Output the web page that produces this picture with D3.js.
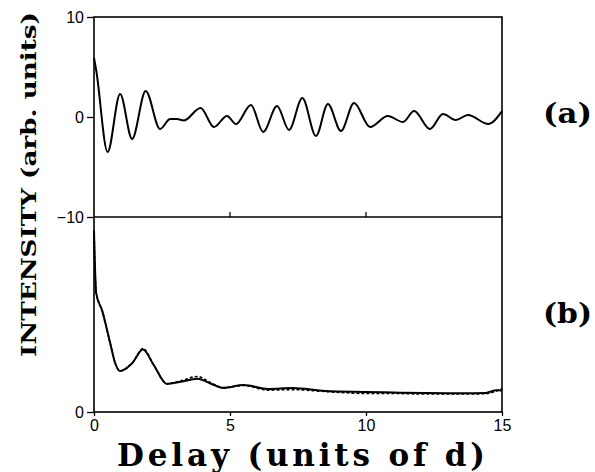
<!DOCTYPE html>
<html>
<head>
<meta charset="utf-8">
<script src="https://cdn.jsdelivr.net/npm/d3@7"></script>
<style>
	body { margin: 0; background: #fff; }
	svg { display: block; }
</style>
</head>
<body>
<div id="chart"></div>
<script>
// panel (a): oscillating signal at its turning points
var delayA = [0, 0.08, 0.5, 0.96, 1.4, 1.9, 2.43, 2.8, 3.05, 3.3, 3.92, 4.41, 4.89, 5.22, 5.77, 6.22, 6.73, 7.17, 7.66, 8.16, 8.6, 9.08, 9.56, 10.15, 10.8, 11.36, 11.77, 12.35, 12.83, 13.3, 13.75, 14.5, 15];
var intensityA = [5.9, 4.7, -3.5, 2.3, -2.2, 2.6, -1.2, -0.2, -0.2, -0.35, 0.9, -1.0, 0.1, -0.7, 1.2, -1.5, 1.1, -1.3, 1.9, -1.9, 1.3, -1.4, 1.4, -1.0, 0.1, -0.5, 0.6, -1.2, 0.3, -0.3, 0.2, -0.7, 0.6];

// panel (b): solid and dashed curves
var delayB = [0, 0.08, 0.3, 0.6, 0.78, 0.96, 1.4, 1.8, 2.2, 2.68, 3.2, 3.8, 4.3, 4.75, 5.5, 6.4, 7.3, 8.5, 10.0, 11.0, 12.2, 13.5, 14.4, 14.8, 15];
var solidB = [9.3, 6.1, 5.2, 3.5, 2.5, 2.1, 2.5, 3.2, 2.4, 1.44, 1.55, 1.7, 1.45, 1.23, 1.38, 1.18, 1.23, 1.08, 1.03, 1.0, 0.97, 0.96, 0.98, 1.12, 1.1];
var dashedB = [9.3, 6.1, 5.2, 3.5, 2.5, 2.1, 2.5, 3.25, 2.4, 1.45, 1.6, 1.82, 1.5, 1.25, 1.36, 1.12, 1.15, 1.05, 0.95, 0.95, 0.92, 0.92, 0.94, 1.08, 1.2];

var xTicks = [0, 5, 10, 15];
var yTicksA = [10, 0, -10];
var yTicksB = [0];

var W = 595, H = 472;
var plotLeft = 94, plotRight = 502, plotTop = 17, plotMid = 217, plotBottom = 412;

var svg = d3.select("#chart").append("svg")
	.attr("width", W)
	.attr("height", H);

var x = d3.scaleLinear().domain([0, 15]).range([plotLeft, plotRight]);
var yA = d3.scaleLinear().domain([-10, 10]).range([plotMid, plotTop]);
var yB = d3.scaleLinear().domain([0, 10]).range([plotBottom, plotMid]);

var tickFont = "'Liberation Sans', Arial, sans-serif";
var titleFont = "'DejaVu Serif', 'Liberation Serif', serif";

// frame
svg.append("rect")
	.attr("x", plotLeft).attr("y", plotTop)
	.attr("width", plotRight - plotLeft).attr("height", plotBottom - plotTop)
	.attr("fill", "none").attr("stroke", "#000").attr("stroke-width", 1.6);
svg.append("line")
	.attr("x1", plotLeft).attr("x2", plotRight)
	.attr("y1", plotMid).attr("y2", plotMid)
	.attr("stroke", "#000").attr("stroke-width", 1.6);

// y axes
var axA = svg.append("g")
	.attr("transform", "translate(" + plotLeft + ",0)")
	.call(d3.axisLeft(yA).tickValues(yTicksA).tickSize(7).tickPadding(3)
		.tickFormat(function (d) { return d < 0 ? "\u2212" + Math.abs(d) : d; }));
var axB = svg.append("g")
	.attr("transform", "translate(" + plotLeft + ",0)")
	.call(d3.axisLeft(yB).tickValues(yTicksB).tickSize(7).tickPadding(3));
[axA, axB].forEach(function (g) {
	g.select(".domain").remove();
	g.selectAll("line").attr("stroke-width", 1.3);
	g.selectAll("text").attr("font-family", tickFont).attr("font-size", 16).attr("fill", "#000");
});

// x ticks on the middle line (pointing up) and bottom axis (pointing down)
var inner = xTicks.filter(function (d) { return d > 0 && d < 15; });
svg.append("g").selectAll("line")
	.data(inner).enter().append("line")
	.attr("x1", function (d) { return x(d); }).attr("x2", function (d) { return x(d); })
	.attr("y1", plotMid).attr("y2", plotMid - 5)
	.attr("stroke", "#000").attr("stroke-width", 1.3);

var axX = svg.append("g")
	.attr("transform", "translate(0," + plotBottom + ")")
	.call(d3.axisBottom(x).tickValues(xTicks).tickSize(4).tickPadding(4));
axX.select(".domain").remove();
axX.selectAll("line").attr("stroke-width", 1.3);
axX.selectAll("text").attr("font-family", tickFont).attr("font-size", 16).attr("fill", "#000");

// curves
var lineA = d3.line()
	.x(function (d, i) { return x(delayA[i]); })
	.y(function (d) { return yA(d); })
	.curve(d3.curveMonotoneX);
svg.append("path")
	.datum(intensityA)
	.attr("fill", "none").attr("stroke", "#000").attr("stroke-width", 2)
	.attr("d", lineA);

var lineB = d3.line()
	.x(function (d, i) { return x(delayB[i]); })
	.y(function (d) { return yB(d); })
	.curve(d3.curveMonotoneX);
svg.append("path")
	.datum(dashedB)
	.attr("fill", "none").attr("stroke", "#000").attr("stroke-width", 1.6)
	.attr("stroke-dasharray", "3,2")
	.attr("d", lineB);
svg.append("path")
	.datum(solidB)
	.attr("fill", "none").attr("stroke", "#000").attr("stroke-width", 2)
	.attr("d", lineB);

// titles
svg.append("text")
	.attr("x", 117).attr("y", 466)
	.attr("font-family", titleFont).attr("font-weight", "bold").attr("font-size", 31)
	.attr("textLength", 368).attr("lengthAdjust", "spacing")
	.text("Delay (units of d)");

svg.append("text")
	.attr("transform", "translate(36,357) rotate(-90)")
	.attr("font-family", titleFont).attr("font-weight", "bold").attr("font-size", 21)
	.attr("textLength", 345).attr("lengthAdjust", "spacingAndGlyphs")
	.text("INTENSITY (arb. units)");

svg.append("text")
	.attr("x", 543).attr("y", 123)
	.attr("font-family", titleFont).attr("font-weight", "bold").attr("font-size", 27)
	.attr("textLength", 49).attr("lengthAdjust", "spacingAndGlyphs")
	.text("(a)");
svg.append("text")
	.attr("x", 543).attr("y", 323)
	.attr("font-family", titleFont).attr("font-weight", "bold").attr("font-size", 27)
	.attr("textLength", 49).attr("lengthAdjust", "spacingAndGlyphs")
	.text("(b)");
</script>
</body>
</html>
